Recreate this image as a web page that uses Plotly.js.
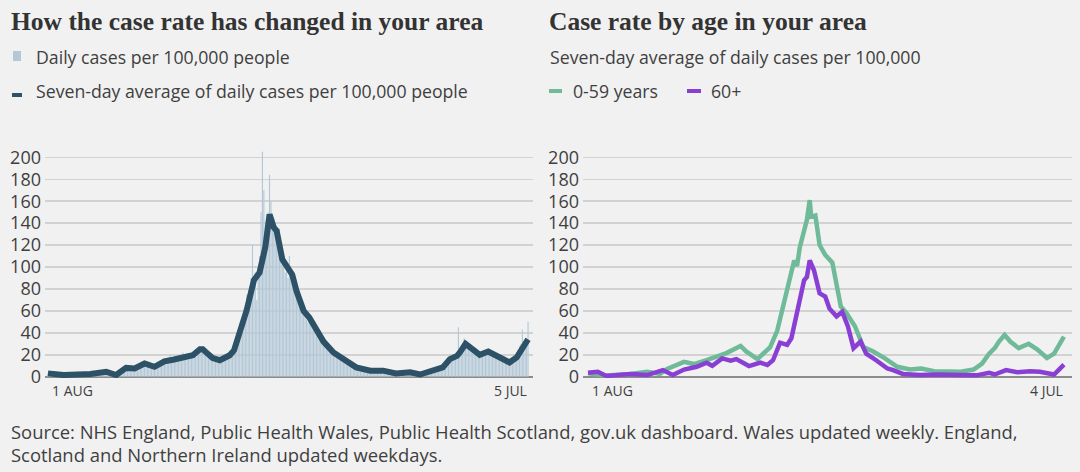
<!DOCTYPE html>
<html>
<head>
<meta charset="utf-8">
<script src="https://cdn.plot.ly/plotly-3.0.1.min.js"></script>
<style>
  html, body { margin: 0; padding: 0; background: #f1f1f1; }
  #chart { width: 1080px; height: 472px; }
</style>
</head>
<body>
<div id="chart"></div>
<script>
// ---------- DATA ----------
const firstDay = '2020-08-01';
// Daily cases per 100,000 people, one value per day from 1 Aug 2020 to 5 Jul 2021
const dailyCases = [
  // Aug
  3,2,4,3,2,1,2,1,2,2,1,3,1,2,1,2,2,3,1,2,2,1,3,2,2,3,2,1,3,2,3,
  // Sep
  2,3,3,2,4,3,3,4,5,4,5,4,3,2,2,1,2,1,3,4,5,7,6,8,9,7,8,6,7,8,
  // Oct
  6,8,9,10,11,12,10,13,12,11,10,9,8,10,9,11,12,10,14,13,12,15,14,13,16,20,15,14,17,16,15,
  // Nov
  17,16,19,22,17,18,20,19,18,21,19,22,25,24,27,28,24,26,22,20,19,18,17,16,15,17,14,15,16,14,
  // Dec
  14,16,15,17,18,22,20,21,25,28,30,35,40,45,50,55,62,58,75,70,80,90,120,85,95,70,100,110,150,205,170,
  // Jan
  130,125,150,184,160,140,145,130,125,120,135,115,105,100,95,98,90,110,95,88,85,80,75,70,72,65,62,58,55,52,50,
  // Feb
  55,50,48,45,42,44,40,38,35,33,32,30,28,27,25,24,22,21,23,20,19,18,17,16,15,16,14,13,
  // Mar
  12,11,10,9,9,8,8,7,8,7,6,6,7,5,6,5,6,5,6,5,6,5,5,6,5,4,6,5,5,4,5,
  // Apr
  4,3,3,2,4,3,3,4,3,4,5,4,4,3,4,3,2,3,2,2,1,2,3,3,4,5,4,6,5,7,
  // May
  6,7,8,8,9,10,12,15,14,18,17,16,18,20,19,21,45,22,25,28,35,30,32,28,26,25,24,23,22,20,21,
  // Jun
  19,21,20,22,24,23,25,22,21,20,19,18,17,18,16,15,14,15,13,12,14,13,14,16,18,20,22,25,28,30,
  // Jul
  43,30,32,35,50
];

// Seven-day average of daily cases per 100,000 people
const avgDates = ['2020-08-01','2020-08-12','2020-08-31','2020-09-07','2020-09-11','2020-09-18','2020-09-25',
  '2020-10-01','2020-10-08','2020-10-15','2020-10-22','2020-10-28','2020-11-02','2020-11-06','2020-11-11',
  '2020-11-16','2020-11-18','2020-11-21','2020-11-25','2020-11-30','2020-12-07','2020-12-10','2020-12-14',
  '2020-12-19','2020-12-24','2020-12-26','2020-12-28','2021-01-01','2021-01-04','2021-01-07','2021-01-09',
  '2021-01-13','2021-01-16','2021-01-20','2021-01-23','2021-01-28','2021-02-01','2021-02-06','2021-02-11',
  '2021-02-18','2021-02-25','2021-03-06','2021-03-16','2021-03-25','2021-04-03','2021-04-13','2021-04-20',
  '2021-04-29','2021-05-06','2021-05-11','2021-05-16','2021-05-18','2021-05-22','2021-05-28','2021-06-01',
  '2021-06-07','2021-06-13','2021-06-17','2021-06-22','2021-06-27','2021-07-05'];
const avgValues = [3,1.5,2.5,3,4.5,1.5,8,
  7.5,12,9,14,15.5,16.5,18,19.5,
  25,25,21.5,17,15,19.5,24,41,
  61,88,91,95,118,148,136,133,
  107,100,93,78,60,54,43,32,
  22,16,8.5,5.5,5.5,3,4,2,
  5.5,8.5,16,19,22,30,24,20,
  23,18.5,16,13,17.5,34];

// Case rate by age: seven-day average of daily cases per 100,000
const youngDates = ['2020-08-01','2020-08-14','2020-08-31','2020-09-12','2020-09-21','2020-09-26','2020-10-08',
  '2020-10-15','2020-10-24','2020-11-03','2020-11-07','2020-11-17','2020-11-21','2020-11-29','2020-12-03',
  '2020-12-08','2020-12-13','2020-12-17','2020-12-22','2020-12-25','2020-12-27','2020-12-29','2021-01-03',
  '2021-01-05','2021-01-06','2021-01-09','2021-01-12','2021-01-16','2021-01-21','2021-01-27','2021-01-31',
  '2021-02-06','2021-02-12','2021-02-19','2021-02-27','2021-03-08','2021-03-17','2021-03-25','2021-04-03',
  '2021-04-12','2021-04-22','2021-05-01','2021-05-07','2021-05-12','2021-05-16','2021-05-19','2021-05-23',
  '2021-05-27','2021-06-02','2021-06-09','2021-06-15','2021-06-22','2021-06-27','2021-07-04'];
const youngValues = [3,1,2.5,4.5,2.5,7,13.5,
  11.5,15,20,21.5,28,23,16,21.5,
  27,42,64,88,106,101,118,143,
  161,146,147,120,111,104,64,58,
  46,27,23,17,9,6.5,7.5,5,
  4.5,4.5,6.5,12,21,26,32,38,
  32,26,30,25,17,21,36.5];

const oldDates = ['2020-08-01','2020-08-08','2020-08-14','2020-08-31','2020-09-12','2020-09-23','2020-09-30',
  '2020-10-08','2020-10-17','2020-10-24','2020-10-28','2020-11-04','2020-11-10','2020-11-14','2020-11-23',
  '2020-12-01','2020-12-06','2020-12-10','2020-12-15','2020-12-20','2020-12-23','2020-12-27','2021-01-01',
  '2021-01-03','2021-01-05','2021-01-08','2021-01-12','2021-01-16','2021-01-19','2021-01-24','2021-01-28',
  '2021-02-01','2021-02-05','2021-02-10','2021-02-14','2021-02-21','2021-03-01','2021-03-05','2021-03-12',
  '2021-03-24','2021-04-07','2021-04-22','2021-05-03','2021-05-12','2021-05-16','2021-05-24','2021-06-01',
  '2021-06-10','2021-06-17','2021-06-27','2021-07-02','2021-07-04'];
const oldValues = [3.6,4.5,0.7,2.5,1.5,6,1.5,
  6.5,9,12.8,10,16.7,14.6,16,9.7,
  12.8,10.6,15,31,29,35,58,88,
  91,106,97,76,73,62,55,59,
  46,26,32,21,15,7.5,6,2.5,
  1.5,2,1.5,1.2,3.6,2,6,4,
  5,4.5,2,9,11];

const yTicks = [0,20,40,60,80,100,120,140,160,180,200];
const leftTickLabels = ['1 AUG','5 JUL'];
const leftTickDates = ['2020-08-01','2021-07-05'];
const rightTickLabels = ['1 AUG','4 JUL'];
const rightTickDates = ['2020-08-01','2021-07-04'];

// ---------- BUILD ----------
const dailyDates = [];
{
  const d0 = new Date(firstDay + 'T00:00:00Z');
  for (let i = 0; i < dailyCases.length; i++) {
    const d = new Date(d0.getTime() + i * 86400000);
    dailyDates.push(d.toISOString().slice(0, 10));
  }
}

const C = {
  bg: '#f1f1f1', text: '#3f3f3f', title: '#333333',
  bar: '#b3c8d7', avg: '#2d5167', young: '#6fba98', old: '#8a3fd4',
  grid: '#d2d2d2', zero: '#8c8c8c'
};
const SANS = '"Open Sans", "Noto Sans", sans-serif';
const SERIF = '"Liberation Serif", "DejaVu Serif", serif';

const traces = [
  { type: 'bar', x: dailyDates, y: dailyCases, xaxis: 'x', yaxis: 'y',
    marker: { color: C.bar, line: { width: 0 } }, hoverinfo: 'skip', showlegend: false },
  { type: 'scatter', mode: 'lines', x: avgDates, y: avgValues, xaxis: 'x', yaxis: 'y',
    line: { color: C.avg, width: 6, shape: 'linear' }, showlegend: false },
  { type: 'scatter', mode: 'lines', x: youngDates, y: youngValues, xaxis: 'x2', yaxis: 'y2',
    line: { color: C.young, width: 4.5 }, showlegend: false },
  { type: 'scatter', mode: 'lines', x: oldDates, y: oldValues, xaxis: 'x2', yaxis: 'y2',
    line: { color: C.old, width: 4.5 }, showlegend: false }
];

const W = 1080, H = 472;
const px = v => v / W;
const py = v => 1 - v / H;

const yCommon = {
  range: [-1.2, 206.7], tickvals: yTicks, ticktext: yTicks.map(String),
  showgrid: true, gridcolor: C.grid, gridwidth: 1.5,
  zeroline: true, zerolinecolor: C.zero, zerolinewidth: 2,
  showline: false, ticks: '', ticklabelstandoff: 3,
  tickfont: { family: SANS, size: 18, color: C.text },
  domain: [py(378), py(150)], fixedrange: true
};

const annotations = [];
function txt(x, y, text, size, opts) {
  annotations.push(Object.assign({
    xref: 'paper', yref: 'paper', x: px(x), y: py(y), text: text, showarrow: false,
    xanchor: 'left', yanchor: 'middle',
    font: { family: SANS, size: size, color: C.text }
  }, opts || {}));
}
// Titles
txt(9, 22, '<b>How the case rate has changed in your area</b>', 25.5, { font: { family: SERIF, size: 25.5, color: C.title } });
txt(547, 22, '<b>Case rate by age in your area</b>', 25.5, { font: { family: SERIF, size: 25.5, color: C.title } });
// Legends / subtitles
txt(34, 57, 'Daily cases per 100,000 people', 17.7);
txt(34, 91, 'Seven-day average of daily cases per 100,000 people', 17.7);
txt(548, 57, 'Seven-day average of daily cases per 100,000', 17.7);
txt(571, 91, '0-59 years', 17.7);
txt(709, 91, '60+', 17.7);
// Source
txt(9, 431, 'Source: NHS England, Public Health Wales, Public Health Scotland, gov.uk dashboard. Wales updated weekly. England,', 18.4);
txt(9, 454, 'Scotland and Northern Ireland updated weekdays.', 18.4);
// X-axis end labels
leftTickDates.forEach((d, i) => annotations.push({
  xref: 'x', yref: 'paper', x: d, y: py(390), text: leftTickLabels[i], showarrow: false,
  xanchor: i === 0 ? 'left' : 'right', yanchor: 'middle', xshift: i === 0 ? 2 : 1,
  font: { family: SANS, size: 14, color: C.text }
}));
rightTickDates.forEach((d, i) => annotations.push({
  xref: 'x2', yref: 'paper', x: d, y: py(390), text: rightTickLabels[i], showarrow: false,
  xanchor: i === 0 ? 'left' : 'right', yanchor: 'middle', xshift: i === 0 ? 2 : 1,
  font: { family: SANS, size: 14, color: C.text }
}));

const shapes = [
  { type: 'rect', xref: 'paper', yref: 'paper', x0: px(13), x1: px(21), y0: py(61), y1: py(51),
    fillcolor: C.bar, line: { width: 0 } },
  { type: 'rect', xref: 'paper', yref: 'paper', x0: px(12), x1: px(22), y0: py(97), y1: py(93),
    fillcolor: C.avg, line: { width: 0 } },
  { type: 'rect', xref: 'paper', yref: 'paper', x0: px(549), x1: px(562), y0: py(93), y1: py(89),
    fillcolor: C.young, line: { width: 0 } },
  { type: 'rect', xref: 'paper', yref: 'paper', x0: px(687), x1: px(701), y0: py(93), y1: py(89),
    fillcolor: C.old, line: { width: 0 } }
];

const layout = {
  width: W, height: H,
  margin: { l: 0, r: 0, t: 0, b: 0 },
  paper_bgcolor: C.bg, plot_bgcolor: C.bg,
  showlegend: false, bargap: 0.2,
  xaxis: { type: 'date', domain: [px(45), px(533)], range: ['2020-07-29 22:00', '2021-07-08 12:00'],
    showticklabels: false, ticks: '', showgrid: false, zeroline: false, showline: false, anchor: 'y', fixedrange: true },
  xaxis2: { type: 'date', domain: [px(583), px(1072)], range: ['2020-07-28 11:00', '2021-07-09 17:00'],
    showticklabels: false, ticks: '', showgrid: false, zeroline: false, showline: false, anchor: 'y2', fixedrange: true },
  yaxis: Object.assign({ anchor: 'x' }, yCommon),
  yaxis2: Object.assign({ anchor: 'x2' }, yCommon),
  annotations: annotations, shapes: shapes
};

Plotly.newPlot('chart', traces, layout, { staticPlot: true, displayModeBar: false });
</script>
</body>
</html>
